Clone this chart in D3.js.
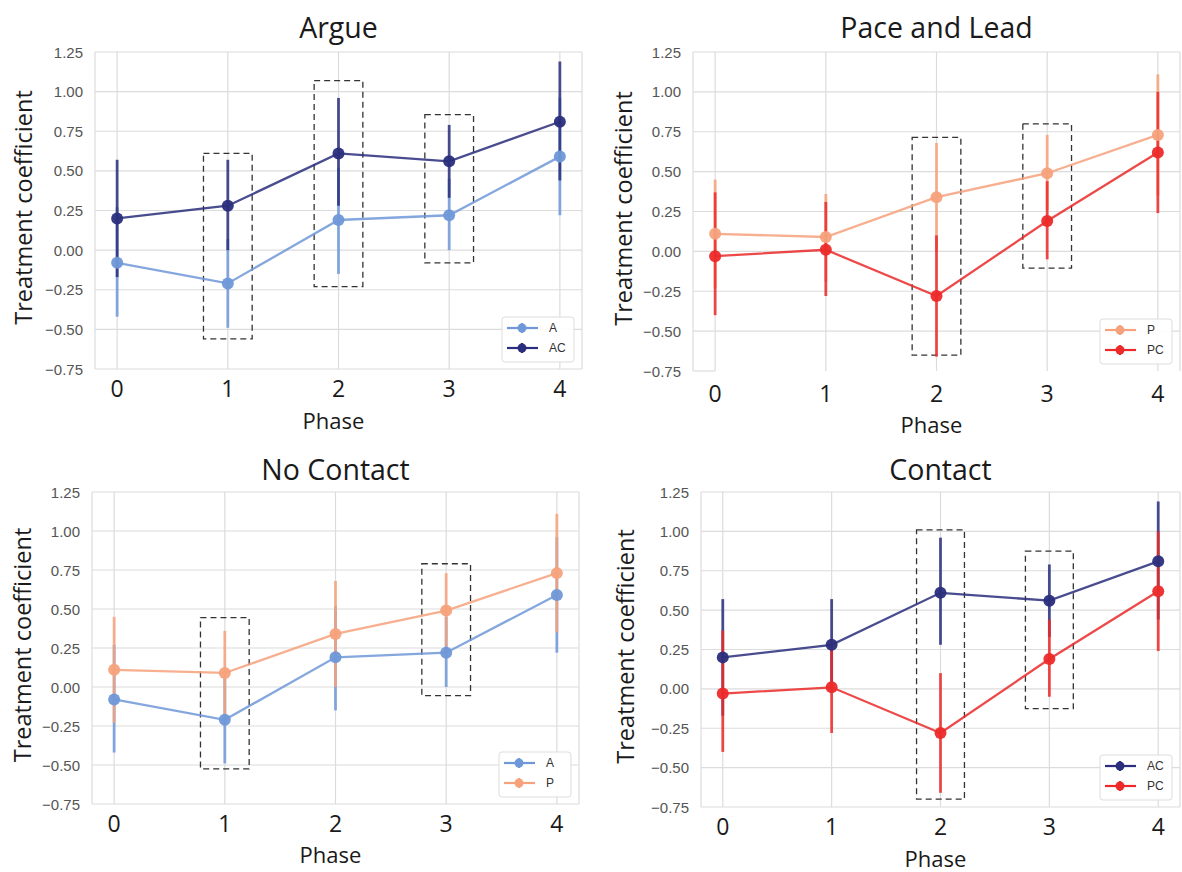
<!DOCTYPE html>
<html>
  <head>
    <meta charset="utf-8">
    <title>Treatment coefficient by phase</title>
    <style>
      body { margin: 0; background: #fff; }
      .ttl, .lab, .xt { font-family: "Open Sans", sans-serif; fill: #1a1a1a; }
      .yt { font-family: "Liberation Sans", Arial, sans-serif; fill: #555; font-size: 15px; }
      .leg { font-family: "Liberation Sans", Arial, sans-serif; fill: #333; font-size: 12px; }
    </style>
  </head>
  <body>
    <script src="https://d3js.org/d3.v7.min.js"></script>
    <script>
      var W = 1182, H = 872;

      var phases = [0, 1, 2, 3, 4];
      var yTickValues = [-0.75, -0.5, -0.25, 0, 0.25, 0.5, 0.75, 1, 1.25];

      // mean and confidence interval per phase
      var A_mean = [-0.08, -0.21, 0.19, 0.22, 0.59];
      var A_low  = [-0.42, -0.49, -0.15, 0.0, 0.22];
      var A_high = [0.27, 0.07, 0.52, 0.45, 0.96];

      var AC_mean = [0.20, 0.28, 0.61, 0.56, 0.81];
      var AC_low  = [-0.17, 0.0, 0.28, 0.33, 0.44];
      var AC_high = [0.57, 0.57, 0.96, 0.79, 1.19];

      var P_mean = [0.11, 0.09, 0.34, 0.49, 0.73];
      var P_low  = [-0.23, -0.19, 0.0, 0.26, 0.35];
      var P_high = [0.45, 0.36, 0.68, 0.73, 1.11];

      var PC_mean = [-0.03, 0.01, -0.28, 0.19, 0.62];
      var PC_low  = [-0.40, -0.28, -0.66, -0.05, 0.24];
      var PC_high = [0.37, 0.31, 0.10, 0.44, 1.00];

      var panelTitles = ["Argue", "Pace and Lead", "No Contact", "Contact"];
      var panelSeries = [["A", "AC"], ["P", "PC"], ["A", "P"], ["AC", "PC"]];

      // dashed highlight boxes: phase, lower and upper value
      var boxPhases = [[1, 2, 3], [2, 3], [1, 3], [2, 3]];
      var boxLow  = [[-0.56, -0.23, -0.08], [-0.65, -0.105], [-0.525, -0.055], [-0.70, -0.125]];
      var boxHigh = [[0.61, 1.07, 0.855], [0.715, 0.80], [0.445, 0.79], [1.01, 0.875]];

      var series = {
        A:  {mean: A_mean, low: A_low, high: A_high, color: "#6f98d8"},
        AC: {mean: AC_mean, low: AC_low, high: AC_high, color: "#2a2e7c"},
        P:  {mean: P_mean, low: P_low, high: P_high, color: "#f6a27c"},
        PC: {mean: PC_mean, low: PC_low, high: PC_high, color: "#ec2a2a"}
      };

      // plot rectangles [left, top, right, bottom] and text positions
      var layout = [
        {l: 95,  t: 52,  r: 582,  b: 369, titleY: 38,  xtY: 397, xlY: 429, ylX: 32},
        {l: 693, t: 52,  r: 1180, b: 371, titleY: 38,  xtY: 402, xlY: 433, ylX: 632},
        {l: 92,  t: 492, r: 579,  b: 804, titleY: 480, xtY: 832, xlY: 863, ylX: 31},
        {l: 701, t: 492, r: 1180, b: 807, titleY: 480, xtY: 835, xlY: 867, ylX: 634}
      ];

      var svg = d3.select("body").append("svg").attr("width", W).attr("height", H);
      var fmt = d3.format(".2f");

      layout.forEach(function(L, i) {
        var x = d3.scaleLinear().domain([-0.2, 4.2]).range([L.l, L.r]);
        var y = d3.scaleLinear().domain([-0.75, 1.25]).range([L.b, L.t]);
        var g = svg.append("g");

        // grid
        g.selectAll(".hg").data(yTickValues).enter().append("line")
          .attr("x1", L.l).attr("x2", function(d) { return (i == 1 && d == -0.75) ? x(0) : L.r; })
          .attr("y1", function(d) { return y(d); }).attr("y2", function(d) { return y(d); })
          .attr("stroke", "#dcdcdc").attr("stroke-width", 1.2);
        g.selectAll(".vg").data(phases).enter().append("line")
          .attr("x1", function(d) { return x(d); }).attr("x2", function(d) { return x(d); })
          .attr("y1", L.t).attr("y2", L.b)
          .attr("stroke", "#dcdcdc").attr("stroke-width", 1.2);
        g.append("line").attr("x1", L.l).attr("x2", L.l).attr("y1", L.t).attr("y2", L.b)
          .attr("stroke", "#dcdcdc").attr("stroke-width", 1.2);
        g.append("line").attr("x1", L.r).attr("x2", L.r).attr("y1", L.t).attr("y2", L.b)
          .attr("stroke", "#dcdcdc").attr("stroke-width", 1.2);

        // tick labels
        g.selectAll(".yt").data(yTickValues).enter().append("text").attr("class", "yt")
          .attr("x", L.l - 12).attr("y", function(d) { return y(d); })
          .attr("text-anchor", "end").attr("dominant-baseline", "central")
          .text(function(d) { return fmt(d); });
        g.selectAll(".xt").data(phases).enter().append("text").attr("class", "xt")
          .attr("x", function(d) { return x(d); }).attr("y", L.xtY)
          .attr("text-anchor", "middle").style("font-size", "23px")
          .text(function(d) { return d; });

        g.append("text").attr("class", "ttl").attr("x", (L.l + L.r) / 2).attr("y", L.titleY)
          .attr("text-anchor", "middle").style("font-size", "28.5px").text(panelTitles[i]);
        g.append("text").attr("class", "lab").attr("x", (L.l + L.r) / 2 - 5).attr("y", L.xlY)
          .attr("text-anchor", "middle").style("font-size", "22px").text("Phase");
        g.append("text").attr("class", "lab")
          .attr("transform", "translate(" + L.ylX + "," + ((L.t + L.b) / 2 - 3) + ") rotate(-90)")
          .attr("text-anchor", "middle").style("font-size", "23.5px").text("Treatment coefficient");

        // dashed boxes
        g.selectAll(".box").data(boxPhases[i]).enter().append("rect")
          .attr("x", function(d) { return x(d - 0.22); })
          .attr("width", function(d) { return x(d + 0.22) - x(d - 0.22); })
          .attr("y", function(d, j) { return y(boxHigh[i][j]); })
          .attr("height", function(d, j) { return y(boxLow[i][j]) - y(boxHigh[i][j]); })
          .attr("fill", "none").attr("stroke", "#333").attr("stroke-width", 1.3)
          .attr("stroke-dasharray", "6,4");

        // error bars and lines
        var line = d3.line().x(function(d) { return x(d); });
        panelSeries[i].forEach(function(name) {
          var s = series[name];
          var sg = g.append("g").attr("opacity", 0.85);
          sg.selectAll("line").data(phases).enter().append("line")
            .attr("x1", function(d) { return x(d); }).attr("x2", function(d) { return x(d); })
            .attr("y1", function(d, j) { return y(s.low[j]); })
            .attr("y2", function(d, j) { return y(s.high[j]); })
            .attr("stroke", s.color).attr("stroke-width", 2.8);
          sg.append("path").datum(phases)
            .attr("d", line.y(function(d, j) { return y(s.mean[j]); }))
            .attr("fill", "none").attr("stroke", s.color).attr("stroke-width", 2.3);
        });
        panelSeries[i].forEach(function(name) {
          var s = series[name];
          g.selectAll(".pt-" + name).data(phases).enter().append("circle")
            .attr("cx", function(d) { return x(d); })
            .attr("cy", function(d, j) { return y(s.mean[j]); })
            .attr("r", 6).attr("fill", s.color).attr("opacity", 0.95);
        });

        // legend
        var lg = g.append("g").attr("transform", "translate(" + (L.r - 80) + "," + (L.b - 52) + ")");
        lg.append("rect").attr("width", 72).attr("height", 45).attr("rx", 3)
          .attr("fill", "#fff").attr("fill-opacity", 0.9).attr("stroke", "#ddd");
        panelSeries[i].forEach(function(name, k) {
          var s = series[name];
          var ry = 11 + k * 20;
          lg.append("line").attr("x1", 5).attr("x2", 36).attr("y1", ry).attr("y2", ry)
            .attr("stroke", s.color).attr("stroke-width", 2.2);
          lg.append("line").attr("x1", 20).attr("x2", 20).attr("y1", ry - 5).attr("y2", ry + 5)
            .attr("stroke", s.color).attr("stroke-width", 2.2);
          lg.append("circle").attr("cx", 20).attr("cy", ry).attr("r", 4.5).attr("fill", s.color);
          lg.append("text").attr("class", "leg").attr("x", 47).attr("y", ry)
            .attr("dominant-baseline", "central").text(name);
        });
      });
    </script>
  </body>
</html>
